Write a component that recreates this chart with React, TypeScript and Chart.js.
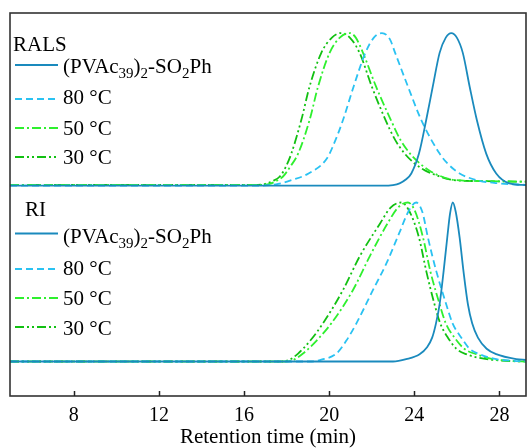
import React, { useEffect, useRef } from 'react';
import { Chart, registerables } from 'chart.js';

Chart.register(...registerables);

// ---------- axis ----------
const X_MIN = 5;
const X_MAX = 29.25;
const X_TICKS = [8, 12, 16, 20, 24, 28];
const X_TITLE = 'Retention time (min)';

// ---------- legend ----------
const PANEL_TITLES = ['RALS', 'RI'];
const SERIES_LABELS = ['(PVAc39)2-SO2Ph', '80 °C', '50 °C', '30 °C'];

// ---------- RALS panel (normalised intensity) ----------
const RALS_SOLID_T = [5, 22.5, 23.0, 23.31, 23.6, 23.86, 24.22, 24.56, 24.87, 25.19, 25.48, 25.74, 26.0, 26.28, 26.6, 26.94, 27.38, 27.85, 28.47, 29.25];
const RALS_SOLID_V = [0, 0, 0.004, 0.015, 0.04, 0.08, 0.21, 0.43, 0.65, 0.87, 0.97, 1.0, 0.97, 0.87, 0.65, 0.43, 0.21, 0.08, 0.015, 0.003];

const RALS_80_T = [5, 16.8, 17.6, 18.25, 19.03, 19.9, 20.3, 20.65, 21.15, 21.7, 22.1, 22.48, 22.85, 23.1, 23.7, 24.33, 25.19, 25.6, 26.13, 26.91, 28.0, 29.25];
const RALS_80_V = [0, 0, 0.012, 0.037, 0.08, 0.18, 0.3, 0.43, 0.65, 0.87, 0.97, 1.0, 0.96, 0.87, 0.65, 0.43, 0.21, 0.14, 0.08, 0.037, 0.015, 0.005];

const RALS_50_T = [5, 16.7, 17.2, 17.5, 17.83, 18.15, 18.54, 19.08, 19.48, 20.02, 20.5, 20.96, 21.25, 21.59, 22.2, 22.9, 23.35, 23.8, 24.25, 24.7, 25.1, 25.9, 27.2, 29.25];
const RALS_50_V = [0.005, 0.005, 0.012, 0.03, 0.06, 0.12, 0.21, 0.43, 0.65, 0.87, 0.97, 1.0, 0.97, 0.87, 0.65, 0.43, 0.3, 0.21, 0.147, 0.1, 0.07, 0.037, 0.03, 0.026];

const RALS_30_T = [5, 16.5, 17.0, 17.35, 17.68, 17.95, 18.22, 18.69, 19.08, 19.63, 20.13, 20.57, 20.97, 21.43, 22.0, 22.65, 23.1, 23.55, 24.0, 24.5, 25.0, 25.81, 27.0, 29.25];
const RALS_30_V = [0.005, 0.005, 0.012, 0.03, 0.06, 0.12, 0.21, 0.43, 0.65, 0.87, 0.97, 1.0, 0.97, 0.87, 0.65, 0.43, 0.3, 0.21, 0.147, 0.1, 0.07, 0.037, 0.03, 0.026];

// ---------- RI panel (normalised intensity) ----------
const RI_SOLID_T = [5, 23.0, 23.62, 24.25, 24.6, 24.84, 25.02, 25.19, 25.38, 25.55, 25.68, 25.81, 25.95, 26.13, 26.31, 26.52, 26.72, 26.99, 27.4, 27.85, 28.79, 29.25];
const RI_SOLID_V = [0, 0, 0.015, 0.046, 0.09, 0.15, 0.24, 0.36, 0.57, 0.78, 0.93, 1.0, 0.94, 0.78, 0.57, 0.36, 0.24, 0.15, 0.08, 0.046, 0.015, 0.01];

const RI_80_T = [5, 19.2, 19.6, 20.34, 20.8, 21.28, 22.06, 22.7, 23.3, 23.75, 24.09, 24.38, 24.64, 25.03, 25.5, 25.8, 26.21, 26.6, 27.07, 27.85, 28.6, 29.25];
const RI_80_V = [0, 0, 0.01, 0.05, 0.13, 0.24, 0.45, 0.62, 0.81, 0.95, 1.0, 0.94, 0.78, 0.57, 0.36, 0.24, 0.15, 0.08, 0.046, 0.015, 0.005, 0];

const RI_50_T = [5, 18.0, 18.35, 18.77, 19.4, 20.1, 21.12, 21.9, 22.75, 23.25, 23.7, 24.02, 24.41, 24.75, 25.19, 25.48, 25.89, 26.35, 26.91, 27.7, 28.6, 29.25];
const RI_50_V = [0, 0, 0.012, 0.05, 0.13, 0.24, 0.45, 0.66, 0.87, 0.97, 1.0, 0.95, 0.78, 0.57, 0.36, 0.24, 0.15, 0.08, 0.046, 0.015, 0.003, 0];

const RI_30_T = [5, 17.8, 18.15, 18.54, 19.1, 19.71, 20.65, 21.43, 22.4, 22.9, 23.39, 23.75, 24.22, 24.56, 24.95, 25.22, 25.58, 25.98, 26.44, 27.4, 28.5, 29.25];
const RI_30_V = [0, 0, 0.012, 0.05, 0.13, 0.24, 0.45, 0.66, 0.87, 0.97, 1.0, 0.95, 0.78, 0.57, 0.36, 0.24, 0.15, 0.08, 0.046, 0.015, 0.003, 0];

// vertical stacking of the two panels on one value axis
const Y_MIN = -0.217;
const Y_MAX = 2.192;
const RALS_OFFSET = 1.106;
const RALS_SCALE = 0.96;

const FONT = '"Liberation Serif", "Times New Roman", serif';

const STYLES = [
  { color: '#1a8abd', dash: [] as number[] },
  { color: '#2ac2f2', dash: [7, 4] },
  { color: '#2ef02e', dash: [9, 3, 2, 3] },
  { color: '#12c012', dash: [9, 3, 2, 3, 2, 3] },
];

const toPts = (t: number[], v: number[], off: number, sc: number) =>
  t.map((x, i) => ({ x, y: off + sc * v[i] }));

// rich label parts: [text, isSubscript]
const richParts = (label: string): [string, boolean][] => {
  if (label === '(PVAc39)2-SO2Ph') {
    return [['(PVAc', false], ['39', true], [')', false], ['2', true], ['-SO', false], ['2', true], ['Ph', false]];
  }
  return [[label, false]];
};

const drawRich = (ctx: CanvasRenderingContext2D, label: string, x: number, y: number) => {
  let cx = x;
  for (const [txt, sub] of richParts(label)) {
    ctx.font = sub ? `15px ${FONT}` : `21px ${FONT}`;
    ctx.fillText(txt, cx, sub ? y + 5 : y);
    cx += ctx.measureText(txt).width;
  }
};

const panelPlugin = {
  id: 'panelDecor',
  afterDatasetsDraw(chart: any) {
    const ctx: CanvasRenderingContext2D = chart.ctx;
    const a = chart.chartArea;
    const xs = chart.scales.x;
    ctx.save();
    // frame
    ctx.strokeStyle = '#333';
    ctx.lineWidth = 1.6;
    ctx.setLineDash([]);
    ctx.strokeRect(a.left, a.top, a.right - a.left, a.bottom - a.top);
    // inward ticks
    ctx.lineWidth = 1.5;
    ctx.strokeStyle = '#222';
    for (const v of X_TICKS) {
      const px = Math.round(xs.getPixelForValue(v)) + 0.5;
      ctx.beginPath();
      ctx.moveTo(px, a.bottom);
      ctx.lineTo(px, a.bottom - 5);
      ctx.stroke();
    }
    // legends
    ctx.fillStyle = '#000';
    ctx.textBaseline = 'alphabetic';
    ctx.textAlign = 'left';
    ctx.font = `21px ${FONT}`;
    ctx.fillText(PANEL_TITLES[0], 13, 51);
    ctx.fillText(PANEL_TITLES[1], 25, 216);
    const rows = [
      [65, 99, 128, 157],
      [233.5, 269, 298, 327],
    ];
    const textMid = [
      [66, 97, 127.5, 157],
      [235.5, 267.5, 297.5, 327.5],
    ];
    for (let p = 0; p < 2; p++) {
      for (let i = 0; i < 4; i++) {
        const st = STYLES[i];
        ctx.strokeStyle = st.color;
        ctx.lineWidth = 2;
        ctx.setLineDash(st.dash);
        ctx.beginPath();
        ctx.moveTo(15, rows[p][i]);
        ctx.lineTo(58, rows[p][i]);
        ctx.stroke();
        ctx.setLineDash([]);
        drawRich(ctx, SERIES_LABELS[i], 63, textMid[p][i] + 7);
      }
    }
    ctx.restore();
  },
};

export default function App() {
  const ref = useRef<HTMLCanvasElement | null>(null);
  useEffect(() => {
    if (!ref.current) return;
    const series = [
      [RALS_SOLID_T, RALS_SOLID_V, 0, RALS_OFFSET, RALS_SCALE],
      [RALS_80_T, RALS_80_V, 1, RALS_OFFSET, RALS_SCALE],
      [RALS_50_T, RALS_50_V, 2, RALS_OFFSET, RALS_SCALE],
      [RALS_30_T, RALS_30_V, 3, RALS_OFFSET, RALS_SCALE],
      [RI_SOLID_T, RI_SOLID_V, 0, 0, 1],
      [RI_80_T, RI_80_V, 1, 0, 1],
      [RI_50_T, RI_50_V, 2, 0, 1],
      [RI_30_T, RI_30_V, 3, 0, 1],
    ] as [number[], number[], number, number, number][];
    const datasets = series.map(([t, v, s, off, sc], k) => ({
      label: (k < 4 ? 'RALS ' : 'RI ') + SERIES_LABELS[s],
      data: toPts(t, v, off, sc),
      borderColor: STYLES[s].color,
      borderDash: STYLES[s].dash,
      borderWidth: 1.8,
      pointRadius: 0,
      fill: false,
      cubicInterpolationMode: 'monotone' as const,
    }));
    const chart = new Chart(ref.current, {
      type: 'line',
      data: { datasets },
      plugins: [panelPlugin],
      options: {
        responsive: false,
        animation: false,
        devicePixelRatio: 1,
        layout: { padding: { left: 10, right: 1, top: 13, bottom: 0 } },
        plugins: { legend: { display: false }, tooltip: { enabled: false } },
        scales: {
          x: {
            type: 'linear',
            min: X_MIN,
            max: X_MAX,
            afterBuildTicks: (s: any) => {
              s.ticks = X_TICKS.map((value) => ({ value }));
            },
            afterFit: (s: any) => {
              s.height = 52;
            },
            grid: { display: false, drawTicks: false },
            border: { display: false },
            ticks: {
              color: '#000',
              font: { family: FONT, size: 20 },
              padding: 8,
              maxRotation: 0,
              autoSkip: false,
            },
            title: {
              display: true,
              text: X_TITLE,
              color: '#000',
              font: { family: FONT, size: 21, lineHeight: 1.0 },
              padding: { top: 0, bottom: 0 },
            },
          },
          y: {
            type: 'linear',
            display: false,
            min: Y_MIN,
            max: Y_MAX,
          },
        },
      },
    });
    return () => chart.destroy();
  }, []);
  return (
    <div style={{ position: 'fixed', left: 0, top: 0, width: 527, height: 448, background: '#fff' }}>
      <canvas ref={ref} width={527} height={448} />
    </div>
  );
}
